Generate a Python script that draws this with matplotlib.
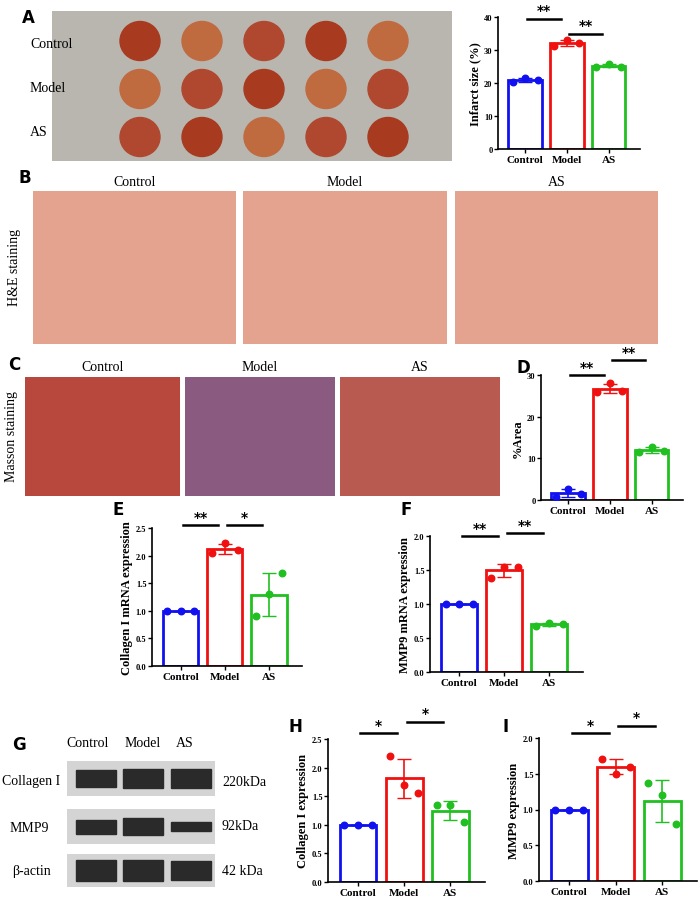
import numpy as np
import matplotlib
matplotlib.use('Agg')
from matplotlib import pyplot as plt
from matplotlib.patches import Rectangle, Ellipse

GROUPS = ['Control', 'Model', 'AS']
COLORS = ['#1010f0', '#f01010', '#20c020']

infarct = [[20.2, 21.5, 21.0], [31.2, 33.0, 32.0], [25.0, 25.7, 25.0]]
area = [[0.8, 2.6, 1.5], [26.0, 28.0, 26.2], [11.5, 12.7, 11.8]]
col_mrna = [[1.0, 1.0, 1.0], [2.05, 2.22, 2.10], [0.90, 1.30, 1.68]]
mmp_mrna = [[1.0, 1.0, 1.0], [1.38, 1.55, 1.55], [0.67, 0.72, 0.71]]
col_prot = [[1.0, 1.0, 1.0], [2.2, 1.7, 1.55], [1.35, 1.35, 1.05]]
mmp_prot = [[1.0, 1.0, 1.0], [1.7, 1.5, 1.6], [1.37, 1.2, 0.8]]

W, H = 699, 903
SERIF = 'Liberation Serif'
fig = plt.figure(figsize=(W / 100, H / 100), dpi=100)


def px_axes(x0, y0, x1, y1):
    return fig.add_axes([x0 / W, 1 - y1 / H, (x1 - x0) / W, (y1 - y0) / H])


def label(x, y, s):
    fig.text(x / W, 1 - y / H, s, fontsize=12, fontweight='bold', family='DejaVu Sans', va='center')


def bar_panel(rect, data, ylim, ticks, ylabel, sig, fmt='%.1f'):
    ax = px_axes(*rect)
    xs = np.arange(3)
    for i, vals in enumerate(data):
        m, s = np.mean(vals), np.std(vals, ddof=1)
        ax.bar(i, m, width=0.8, facecolor='white', edgecolor=COLORS[i], linewidth=2, zorder=2)
        ax.errorbar(i, m, yerr=s, color=COLORS[i], capsize=5, lw=1.2, zorder=3)
        ax.scatter(i + np.array([-0.3, 0, 0.3]), vals, color=COLORS[i], s=22, zorder=4)
    ax.set_xlim(-0.65, 2.75)
    ax.set_ylim(*ylim)
    ax.set_yticks(ticks)
    ax.set_yticklabels([fmt % t for t in ticks])
    ax.set_xticks(xs)
    ax.set_xticklabels(GROUPS)
    ax.set_ylabel(ylabel, fontsize=9, fontweight='bold', family=SERIF, labelpad=2)
    for lab in ax.get_xticklabels():
        lab.set_family(SERIF); lab.set_fontweight('bold'); lab.set_fontsize(8)
    for lab in ax.get_yticklabels():
        lab.set_family(SERIF); lab.set_fontweight('bold'); lab.set_fontsize(6)
    ax.spines[['top', 'right']].set_visible(False)
    ax.spines[['left', 'bottom']].set_linewidth(1.2)
    ax.tick_params(length=3, width=1, pad=1)
    span = ylim[1] - ylim[0]
    for (a, b, y, txt) in sig:
        ax.plot([a + 0.05, b - 0.15], [y, y], color='black', lw=1.8, clip_on=False)
        ax.text((a + b) / 2 - 0.05, y + 0.01 * span, txt, ha='center', va='bottom', fontsize=10,
                fontweight='bold', clip_on=False)
    return ax


# ---- photo placeholders ----
def photo(rect, color, title=None, title_y=None):
    ax = px_axes(*rect)
    ax.set_xlim(0, 1); ax.set_ylim(0, 1); ax.axis('off')
    ax.add_patch(Rectangle((0, 0), 1, 1, color=color))
    if title:
        fig.text((rect[0] + rect[2]) / 2 / W, 1 - title_y / H, title, ha='center', va='center',
                 family=SERIF, fontsize=10)
    return ax


label(22, 18, 'A')
ax = photo((52, 12, 452, 162), '#b8b6ae')
for r, yy in enumerate([0.8, 0.48, 0.16]):
    for c in range(5):
        ax.add_patch(Ellipse((0.22 + c * 0.155, yy), 0.1, 0.26, color=['#a83a20', '#c06a40', '#b04830'][(r + c) % 3]))
for t, yy in zip(GROUPS, [45, 88, 133]):
    fig.text(30 / W, 1 - yy / H, t, family=SERIF, fontsize=10, va='center')

label(18, 178, 'B')
for (x0, x1), t in zip([(33, 236), (243, 447), (455, 658)], GROUPS):
    photo((x0, 192, x1, 345), '#e3a38e', t, 183)
fig.text(15 / W, 1 - 268 / H, 'H&E staining', rotation=90, family=SERIF, fontsize=10, va='center', ha='center')

label(8, 365, 'C')
for (x0, x1), t, c in zip([(25, 180), (185, 335), (340, 500)], GROUPS, ['#b8483e', '#8a5a80', '#b85a50']):
    photo((x0, 378, x1, 497), c, t, 368)
fig.text(12 / W, 1 - 437 / H, 'Masson staining', rotation=90, family=SERIF, fontsize=10, va='center', ha='center')

label(112, 510, 'E')
label(400, 510, 'F')
label(12, 745, 'G')
for y0, y1, ws in [(762, 797, [0.6, 0.7, 0.7]), (810, 845, [0.5, 0.6, 0.35]), (855, 888, [0.8, 0.8, 0.75])]:
    ax = photo((67, y0, 215, y1), '#d4d4d4')
    for c in range(3):
        ax.add_patch(Rectangle((0.06 + c * 0.32, 0.5 - 0.4 * ws[c]), 0.27, 0.8 * ws[c], color='#2a2a2a'))
for t, xx in zip(GROUPS, [88, 143, 185]):
    fig.text(xx / W, 1 - 744 / H, t, family=SERIF, fontsize=10, ha='center', va='center')
for t, yy, xx in zip(['Collagen I', 'MMP9', 'β-actin'], [782, 829, 872], [2, 10, 12]):
    fig.text(xx / W, 1 - yy / H, t, family=SERIF, fontsize=10, va='center')
for t, yy in zip(['220kDa', '92kDa', '42 kDa'], [782, 827, 872]):
    fig.text(222 / W, 1 - yy / H, t, family=SERIF, fontsize=10, va='center')
label(288, 727, 'H')
label(503, 727, 'I')

# ---- bar charts ----
bar_panel((498, 18, 640, 150), infarct, (0, 40), [0, 10, 20, 30, 40], 'Infarct size (%)',
          [(0, 1, 39.5, '**'), (1, 2, 35, '**')], fmt='%d')
label(517, 368, 'D')
bar_panel((541, 376, 683, 501), area, (0, 30), [0, 10, 20, 30], '%Area',
          [(0, 1, 30.0, '**'), (1, 2, 33.5, '**')], fmt='%d')
bar_panel((152, 529, 302, 667), col_mrna, (0, 2.5), [0, 0.5, 1.0, 1.5, 2.0, 2.5],
          'Collagen I mRNA expression', [(0, 1, 2.55, '**'), (1, 2, 2.55, '*')])
bar_panel((430, 537, 583, 673), mmp_mrna, (0, 2.0), [0, 0.5, 1.0, 1.5, 2.0],
          'MMP9 mRNA expression', [(0, 1, 2.0, '**'), (1, 2, 2.04, '**')])
bar_panel((328, 740, 485, 883), col_prot, (0, 2.5), [0, 0.5, 1.0, 1.5, 2.0, 2.5],
          'Collagen I expression', [(0, 1, 2.6, '*'), (1, 2, 2.8, '*')])
bar_panel((539, 739, 697, 882), mmp_prot, (0, 2.0), [0, 0.5, 1.0, 1.5, 2.0],
          'MMP9 expression', [(0, 1, 2.07, '*'), (1, 2, 2.17, '*')])

fig.savefig('out.png', dpi=100, facecolor='white')
